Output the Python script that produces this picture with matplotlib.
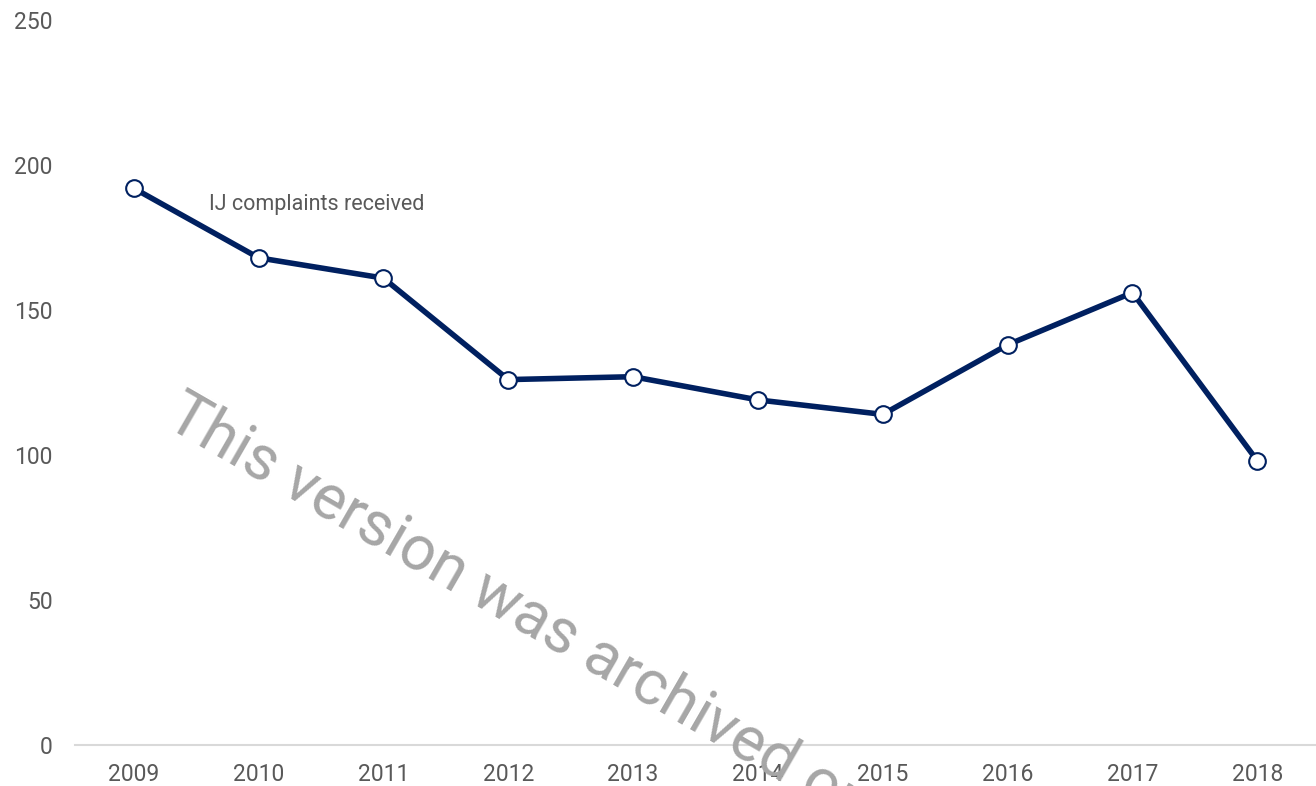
import matplotlib
matplotlib.use("Agg")
import matplotlib.pyplot as plt

# IJ complaints received per year
years = ["2009", "2010", "2011", "2012", "2013", "2014", "2015", "2016", "2017", "2018"]
complaints = [192, 168, 161, 126, 127, 119, 114, 138, 156, 98]
y_ticks = [0, 50, 100, 150, 200, 250]

NAVY = "#002060"
GREY = "#595959"

plt.rcParams["font.family"] = ["Roboto", "DejaVu Sans"]

fig = plt.figure(figsize=(13.16, 7.86), dpi=100)
ax = fig.add_axes([75 / 1316, 41 / 786, 1 - 75 / 1316, (745 - 20) / 786])

x = list(range(len(years)))
ax.plot(x, complaints, color=NAVY, lw=4, marker="o", ms=12,
        mfc="white", mec=NAVY, mew=1.5, zorder=3)

ax.set_xlim(-0.47, len(years) - 1 + 0.47)
ax.set_ylim(0, 250)
ax.set_xticks(x)
ax.set_xticklabels(years)
ax.set_yticks(y_ticks)
ax.tick_params(axis="both", length=0, labelsize=16.5, labelcolor=GREY)
ax.tick_params(axis="y", pad=16)
ax.tick_params(axis="x", pad=13)

for side in ["top", "right", "left"]:
    ax.spines[side].set_visible(False)
ax.spines["bottom"].set_color("#d9d9d9")
ax.spines["bottom"].set_linewidth(1.5)

ax.text(0.6, 186.5, "IJ complaints received", fontsize=15.5, color=GREY,
        ha="left", va="center")

# archive watermark
fig.text(163 / 1316, 1 - 425 / 786, "This version was archived on",
         fontsize=45, color="#a6a6a6", rotation=-30, rotation_mode="anchor",
         ha="left", va="baseline", zorder=10)

fig.savefig("out.png", dpi=100)
